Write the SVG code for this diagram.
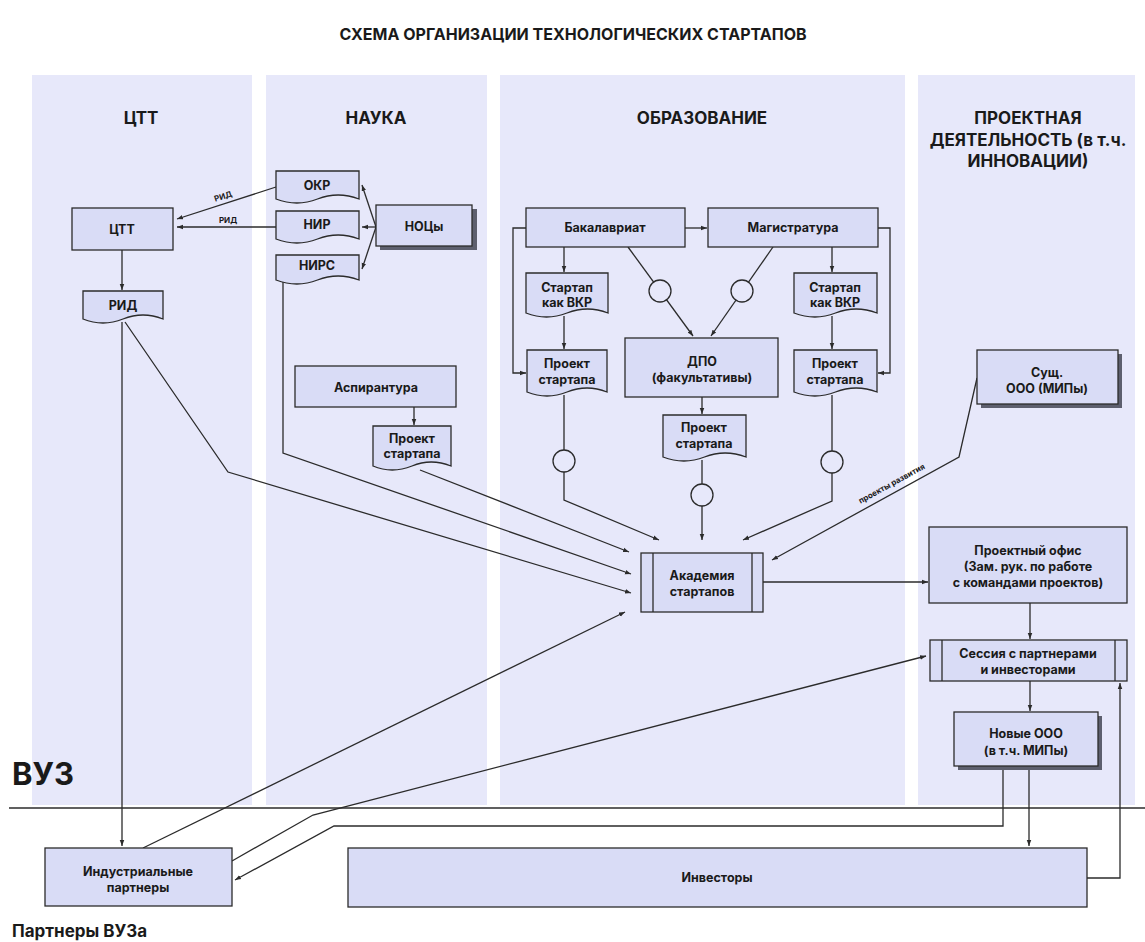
<svg xmlns="http://www.w3.org/2000/svg" width="1145" height="942" viewBox="0 0 1145 942">
<defs>
<style>
.lane{fill:#e7e8fa}
.box{fill:#d9dcf6;stroke:#2b2b2b;stroke-width:1.3}
.shd{fill:#5d5f6e}
.ln{fill:none;stroke:#2b2b2b;stroke-width:1.3}
.ci{fill:#e7e8fa;stroke:#2b2b2b;stroke-width:1.3}
text{font-family:Inter,"Liberation Sans",Arial,sans-serif;font-weight:700;fill:#1a1a1a}
.t{font-size:12.5px;text-anchor:middle}
.h{font-size:17px;text-anchor:middle}
.s{font-size:8px;text-anchor:middle}
</style>
<marker id="a" viewBox="0 0 8 8" refX="8" refY="4" markerWidth="6" markerHeight="6" orient="auto" markerUnits="userSpaceOnUse"><path d="M0,1 L8,4 L0,7z" fill="#2b2b2b"/></marker>
</defs>
<rect width="1145" height="942" fill="#ffffff"/>
<text x="573" y="40" style="font-size:16px;text-anchor:middle">СХЕМА ОРГАНИЗАЦИИ ТЕХНОЛОГИЧЕСКИХ СТАРТАПОВ</text>
<g id="lanes">
<rect class="lane" x="32" y="75" width="220" height="730"/>
<rect class="lane" x="266" y="75" width="221" height="730"/>
<rect class="lane" x="500" y="75" width="405" height="730"/>
<rect class="lane" x="918" y="75" width="217" height="730"/>
<text class="h" x="141" y="124">ЦТТ</text>
<text class="h" x="376" y="124">НАУКА</text>
<text class="h" x="702" y="124">ОБРАЗОВАНИЕ</text>
<text class="h" x="1028" y="124">ПРОЕКТНАЯ</text>
<text class="h" x="1028" y="146">ДЕЯТЕЛЬНОСТЬ (в т.ч.</text>
<text class="h" x="1028" y="167">ИННОВАЦИИ)</text>
</g>
<line x1="9" y1="808" x2="1145" y2="808" stroke="#2b2b2b" stroke-width="1.3"/>
<text x="12" y="785" style="font-size:31px">ВУЗ</text>
<text x="12" y="937" style="font-size:17px">Партнеры ВУЗа</text>

<g id="connectors">
<path class="ln" d="M276,187 L177,219" marker-end="url(#a)"/>
<path class="ln" d="M276,227 L177,227" marker-end="url(#a)"/>
<path class="ln" d="M376,227 L362,185" marker-end="url(#a)"/>
<path class="ln" d="M376,227 L362,227" marker-end="url(#a)"/>
<path class="ln" d="M376,227 L362,269" marker-end="url(#a)"/>
<path class="ln" d="M122,250 L122,290" marker-end="url(#a)"/>
<path class="ln" d="M122,322 L122,846" marker-end="url(#a)"/>
<path class="ln" d="M125,322 L228,472 L631,593" marker-end="url(#a)"/>
<path class="ln" d="M283,281 L283,453 L631,574" marker-end="url(#a)"/>
<path class="ln" d="M414,407 L414,425" marker-end="url(#a)"/>
<path class="ln" d="M420,470 L629,552" marker-end="url(#a)"/>
<path class="ln" d="M143,848 L625,612" marker-end="url(#a)"/>
<path class="ln" d="M232,861 L313,815 L926,656" marker-end="url(#a)"/>
<path class="ln" d="M1003,770 V826 H334 L235,880" marker-end="url(#a)"/>
<path class="ln" d="M1029,770 V846" marker-end="url(#a)"/>
<path class="ln" d="M1087,878 H1120 V683" marker-end="url(#a)"/>
<path class="ln" d="M1030,681 V711" marker-end="url(#a)"/>
<path class="ln" d="M1030,603 V639" marker-end="url(#a)"/>
<path class="ln" d="M763,582 H928" marker-end="url(#a)"/>
<path class="ln" d="M977,378 L959,457 L772,560" marker-end="url(#a)"/>
<path class="ln" d="M685,228 H707" marker-end="url(#a)"/>
<path class="ln" d="M564,247 V272" marker-end="url(#a)"/>
<path class="ln" d="M564,316 V349" marker-end="url(#a)"/>
<path class="ln" d="M832,247 V272" marker-end="url(#a)"/>
<path class="ln" d="M832,316 V349" marker-end="url(#a)"/>
<path class="ln" d="M526,228 H513 V373 H526" marker-end="url(#a)"/>
<path class="ln" d="M878,228 H890 V373 H878" marker-end="url(#a)"/>
<path class="ln" d="M628,247 L693,336" marker-end="url(#a)"/>
<path class="ln" d="M773,247 L711,336" marker-end="url(#a)"/>
<path class="ln" d="M702,397 V414" marker-end="url(#a)"/>
<path class="ln" d="M564,395 V500 L659,540" marker-end="url(#a)"/>
<path class="ln" d="M702,460 V540" marker-end="url(#a)"/>
<path class="ln" d="M832,395 V501 L743,540" marker-end="url(#a)"/>
<circle class="ci" cx="564" cy="461" r="11"/>
<circle class="ci" cx="702" cy="495" r="11"/>
<circle class="ci" cx="832" cy="462" r="11"/>
<circle class="ci" cx="660" cy="291" r="11"/>
<circle class="ci" cx="742" cy="291" r="11"/>
<text class="s" transform="translate(224,199) rotate(-18)">РИД</text>
<text class="s" x="228" y="223">РИД</text>
<text class="s" transform="translate(893,486) rotate(-28.7)">проекты развития</text>
</g>

<g id="n-ctt"><rect class="box" x="72" y="208" width="101" height="42"/><text class="t" x="122" y="234">ЦТТ</text></g>
<g id="n-rid"><path class="box" d="M83,291 H163 V319 Q143,311 123,319 Q103,327 83,319 Z"/><text class="t" x="123" y="310">РИД</text></g>
<g id="n-okr"><path class="box" d="M276,171 H359 V199 Q338,191 317.5,199 Q297,207 276,199 Z"/><text class="t" x="317" y="190">ОКР</text></g>
<g id="n-nir"><path class="box" d="M276,211 H359 V239 Q338,231 317.5,239 Q297,247 276,239 Z"/><text class="t" x="317" y="229">НИР</text></g>
<g id="n-nirs"><path class="box" d="M276,255 H359 V280 Q338,272 317.5,280 Q297,288 276,280 Z"/><text class="t" x="317" y="270">НИРС</text></g>
<g id="n-noc"><rect class="shd" x="380" y="209" width="97" height="41"/><rect class="box" x="376" y="205" width="96" height="41"/><text class="t" x="424" y="231">НОЦы</text></g>
<g id="n-asp"><rect class="box" x="295" y="366" width="161" height="41"/><text class="t" x="376" y="392">Аспирантура</text></g>
<g id="n-pasp"><path class="box" d="M373,426 H451 V466 Q431,458 412,466 Q392,474 373,466 Z"/><text class="t" x="412" y="443">Проект</text><text class="t" x="412" y="458">стартапа</text></g>
<g id="n-bak"><rect class="box" x="526" y="208" width="159" height="39"/><text class="t" x="605" y="232">Бакалавриат</text></g>
<g id="n-mag"><rect class="box" x="708" y="208" width="170" height="39"/><text class="t" x="793" y="232">Магистратура</text></g>
<g id="n-vkr1"><path class="box" d="M526,273 H608 V313 Q587.5,305 567,313 Q546.5,321 526,313 Z"/><text class="t" x="567" y="292">Стартап</text><text class="t" x="567" y="307">как ВКР</text></g>
<g id="n-vkr2"><path class="box" d="M794,273 H877 V313 Q856,305 835.5,313 Q815,321 794,313 Z"/><text class="t" x="835" y="292">Стартап</text><text class="t" x="835" y="307">как ВКР</text></g>
<g id="n-pr1"><path class="box" d="M527,350 H607 V392 Q587,384 567,392 Q547,400 527,392 Z"/><text class="t" x="567" y="368">Проект</text><text class="t" x="567" y="384">стартапа</text></g>
<g id="n-pr2"><path class="box" d="M794,350 H877 V392 Q856,384 835.5,392 Q815,400 794,392 Z"/><text class="t" x="835" y="368">Проект</text><text class="t" x="835" y="384">стартапа</text></g>
<g id="n-dpo"><rect class="box" x="625" y="338" width="153" height="59"/><text class="t" x="702" y="366">ДПО</text><text class="t" x="702" y="382">(факультативы)</text></g>
<g id="n-pr3"><path class="box" d="M663,415 H746 V457 Q725,449 704.5,457 Q684,465 663,457 Z"/><text class="t" x="704" y="432">Проект</text><text class="t" x="704" y="448">стартапа</text></g>
<g id="n-acad"><rect class="box" x="641" y="553" width="122" height="59"/><line class="ln" x1="653" y1="553" x2="653" y2="612"/><line class="ln" x1="752" y1="553" x2="752" y2="612"/><text class="t" x="702" y="580">Академия</text><text class="t" x="702" y="596">стартапов</text></g>
<g id="n-sush"><rect class="shd" x="981" y="354" width="141" height="54"/><rect class="box" x="977" y="350" width="141" height="54"/><text class="t" x="1047" y="377">Сущ.</text><text class="t" x="1047" y="393">ООО (МИПы)</text></g>
<g id="n-office"><rect class="box" x="929" y="527" width="198" height="76"/><text class="t" x="1028" y="555">Проектный офис</text><text class="t" x="1028" y="571">(Зам. рук. по работе</text><text class="t" x="1028" y="587">с командами проектов)</text></g>
<g id="n-sess"><rect class="box" x="930" y="640" width="197" height="41"/><line class="ln" x1="942" y1="640" x2="942" y2="681"/><line class="ln" x1="1115" y1="640" x2="1115" y2="681"/><text class="t" x="1028" y="658">Сессия с партнерами</text><text class="t" x="1028" y="674">и инвесторами</text></g>
<g id="n-new"><rect class="shd" x="958" y="716" width="144" height="54"/><rect class="box" x="954" y="712" width="144" height="54"/><text class="t" x="1026" y="738">Новые ООО</text><text class="t" x="1026" y="755">(в т.ч. МИПы)</text></g>
<g id="n-ind"><rect class="box" x="45" y="848" width="187" height="58"/><text class="t" x="138" y="876">Индустриальные</text><text class="t" x="138" y="892">партнеры</text></g>
<g id="n-inv"><rect class="box" x="348" y="848" width="739" height="59"/><text class="t" x="717" y="882">Инвесторы</text></g>
</svg>
